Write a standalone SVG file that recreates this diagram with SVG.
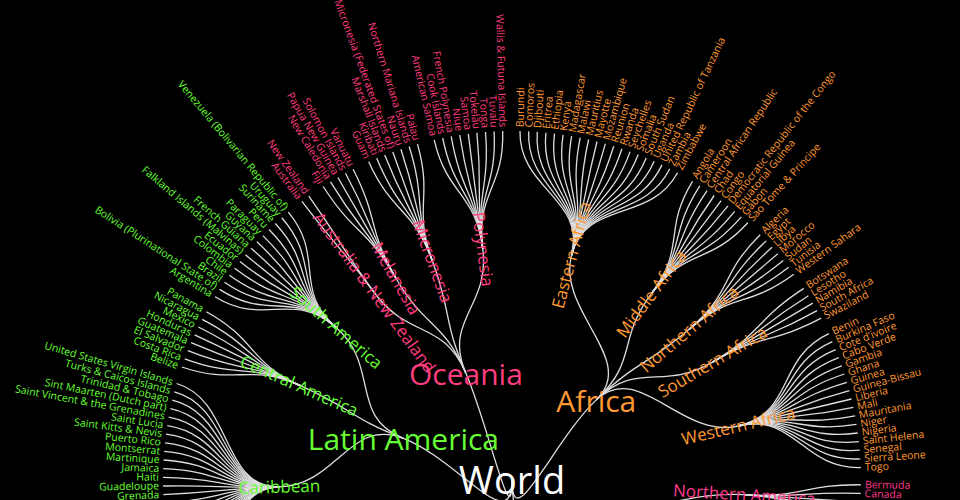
<svg xmlns="http://www.w3.org/2000/svg" width="960" height="500" viewBox="0 0 960 500">
<style>
text{font-family:"Open Sans","Liberation Sans",sans-serif}
.lk{fill:none;stroke:#dedede;stroke-width:1.3}
.f3{font-size:10.5px}
.f2{font-size:17px}
.f1{font-size:30px}
.f0{font-size:38px;fill:#fff}
.e{text-anchor:end}
.m{text-anchor:middle}
.la{fill:#66ff33}.oc{fill:#ff3d7f}.af{fill:#ff9933}.na{fill:#ff3a8c}
</style>
<rect width="960" height="500" fill="#000"/>
<g id="links" class="lk">
<path d="M512,480C512,538.2 457.7,459.1 403.4,438.3"/>
<path d="M512,480C512,538.2 489,426.6 465.9,373.2"/>
<path d="M512,480C512,538.2 554.2,439.9 596.3,399.9"/>
<path d="M512,480C512,596.3 628.1,487.4 744.2,494.7"/>
<path d="M403.4,438.3C349.1,417.4 337.6,485.2 279.4,486.9"/>
<path d="M403.4,438.3C349.1,417.4 353.7,409.4 300.9,385.9"/>
<path d="M403.4,438.3C349.1,417.4 380.1,365.7 336.2,327.6"/>
<path d="M465.9,373.2C442.8,319.8 408.7,339.4 374.2,292.5"/>
<path d="M465.9,373.2C442.8,319.8 425,328.8 396,278.3"/>
<path d="M465.9,373.2C442.8,319.8 452.4,316 432.5,261.3"/>
<path d="M465.9,373.2C442.8,319.8 490.1,306.9 482.8,249.2"/>
<path d="M596.3,399.9C638.5,359.8 556.6,311.3 571.5,255.1"/>
<path d="M596.3,399.9C638.5,359.8 616.6,340.3 651.4,293.7"/>
<path d="M596.3,399.9C638.5,359.8 644.9,366.9 689.2,329.2"/>
<path d="M596.3,399.9C638.5,359.8 662.4,391.5 712.6,362.1"/>
<path d="M596.3,399.9C638.5,359.8 681.7,439.5 738.3,426"/>
<path d="M279.4,486.9C221.3,488.6 237.8,576.8 182.9,596.2"/>
<path d="M279.4,486.9C221.3,488.6 235.4,570 180.1,588"/>
<path d="M279.4,486.9C221.3,488.6 233.3,563.1 177.6,579.7"/>
<path d="M279.4,486.9C221.3,488.6 231.3,556.2 175.2,571.4"/>
<path d="M279.4,486.9C221.3,488.6 229.5,549.2 173,563"/>
<path d="M279.4,486.9C221.3,488.6 227.9,542.2 171.1,554.6"/>
<path d="M279.4,486.9C221.3,488.6 226.4,535.1 169.3,546.1"/>
<path d="M279.4,486.9C221.3,488.6 225.2,528 167.8,537.6"/>
<path d="M279.4,486.9C221.3,488.6 224.1,520.9 166.5,529.1"/>
<path d="M279.4,486.9C221.3,488.6 223.1,513.7 165.4,520.5"/>
<path d="M279.4,486.9C221.3,488.6 222.4,506.6 164.5,511.9"/>
<path d="M279.4,486.9C221.3,488.6 221.8,499.4 163.8,503.3"/>
<path d="M279.4,486.9C221.3,488.6 221.4,492.2 163.3,494.6"/>
<path d="M279.4,486.9C221.3,488.6 221.2,485 163.1,486"/>
<path d="M279.4,486.9C221.3,488.6 221.2,477.8 163,477.3"/>
<path d="M279.4,486.9C221.3,488.6 221.3,470.6 163.2,468.7"/>
<path d="M279.4,486.9C221.3,488.6 221.7,463.4 163.6,460"/>
<path d="M279.4,486.9C221.3,488.6 222.2,456.2 164.2,451.4"/>
<path d="M279.4,486.9C221.3,488.6 222.8,449 165,442.8"/>
<path d="M279.4,486.9C221.3,488.6 223.7,441.8 166,434.2"/>
<path d="M279.4,486.9C221.3,488.6 224.7,434.7 167.3,425.7"/>
<path d="M279.4,486.9C221.3,488.6 225.9,427.6 168.7,417.1"/>
<path d="M279.4,486.9C221.3,488.6 227.3,420.5 170.4,408.6"/>
<path d="M279.4,486.9C221.3,488.6 228.9,413.5 172.3,400.2"/>
<path d="M279.4,486.9C221.3,488.6 230.6,406.5 174.3,391.8"/>
<path d="M279.4,486.9C221.3,488.6 232.5,399.6 176.6,383.5"/>
<path d="M300.9,385.9C248.1,362.3 236.9,385.8 181.8,367"/>
<path d="M300.9,385.9C248.1,362.3 239.3,379 184.7,358.8"/>
<path d="M300.9,385.9C248.1,362.3 241.9,372.3 187.8,350.7"/>
<path d="M300.9,385.9C248.1,362.3 244.6,365.6 191.1,342.7"/>
<path d="M300.9,385.9C248.1,362.3 247.5,359 194.6,334.8"/>
<path d="M300.9,385.9C248.1,362.3 250.6,352.5 198.3,327"/>
<path d="M300.9,385.9C248.1,362.3 253.9,346.1 202.2,319.3"/>
<path d="M300.9,385.9C248.1,362.3 257.3,339.7 206.3,311.7"/>
<path d="M336.2,327.6C292.2,289.5 264.5,327.3 215,296.7"/>
<path d="M336.2,327.6C292.2,289.5 268.4,321.2 219.6,289.4"/>
<path d="M336.2,327.6C292.2,289.5 272.4,315.2 224.5,282.2"/>
<path d="M336.2,327.6C292.2,289.5 276.5,309.3 229.4,275.2"/>
<path d="M336.2,327.6C292.2,289.5 280.9,303.5 234.6,268.2"/>
<path d="M336.2,327.6C292.2,289.5 285.3,297.9 239.9,261.4"/>
<path d="M336.2,327.6C292.2,289.5 289.9,292.3 245.4,254.7"/>
<path d="M336.2,327.6C292.2,289.5 294.6,286.8 251.1,248.2"/>
<path d="M336.2,327.6C292.2,289.5 299.4,281.5 256.9,241.8"/>
<path d="M336.2,327.6C292.2,289.5 304.4,276.3 262.9,235.6"/>
<path d="M336.2,327.6C292.2,289.5 309.5,271.2 269,229.5"/>
<path d="M336.2,327.6C292.2,289.5 314.8,266.3 275.3,223.5"/>
<path d="M336.2,327.6C292.2,289.5 320.1,261.5 281.8,217.7"/>
<path d="M336.2,327.6C292.2,289.5 325.6,256.8 288.3,212.1"/>
<path d="M374.2,292.5C339.8,245.7 336.9,247.8 301.9,201.4"/>
<path d="M374.2,292.5C339.8,245.7 342.7,243.5 308.8,196.2"/>
<path d="M396,278.3C366.9,227.9 354.6,235.4 323.2,186.5"/>
<path d="M396,278.3C366.9,227.9 360.7,231.6 330.5,181.9"/>
<path d="M396,278.3C366.9,227.9 366.9,227.9 337.9,177.5"/>
<path d="M396,278.3C366.9,227.9 373.2,224.4 345.5,173.3"/>
<path d="M396,278.3C366.9,227.9 379.6,221.1 353.1,169.3"/>
<path d="M432.5,261.3C412.6,206.7 392.6,214.8 368.7,161.8"/>
<path d="M432.5,261.3C412.6,206.7 399.2,211.9 376.7,158.3"/>
<path d="M432.5,261.3C412.6,206.7 405.9,209.2 384.7,155.1"/>
<path d="M432.5,261.3C412.6,206.7 412.6,206.7 392.8,152"/>
<path d="M432.5,261.3C412.6,206.7 419.4,204.3 400.9,149.2"/>
<path d="M432.5,261.3C412.6,206.7 426.3,202.1 409.2,146.5"/>
<path d="M432.5,261.3C412.6,206.7 433.2,200.1 417.5,144.1"/>
<path d="M482.8,249.2C475.6,191.5 447.2,196.5 434.2,139.8"/>
<path d="M482.8,249.2C475.6,191.5 454.2,195 442.7,138"/>
<path d="M482.8,249.2C475.6,191.5 461.3,193.6 451.2,136.4"/>
<path d="M482.8,249.2C475.6,191.5 468.4,192.5 459.7,135"/>
<path d="M482.8,249.2C475.6,191.5 475.6,191.5 468.3,133.8"/>
<path d="M482.8,249.2C475.6,191.5 482.7,190.7 476.9,132.8"/>
<path d="M482.8,249.2C475.6,191.5 489.9,190 485.5,132"/>
<path d="M482.8,249.2C475.6,191.5 497.1,189.6 494.1,131.5"/>
<path d="M482.8,249.2C475.6,191.5 504.3,189.3 502.7,131.1"/>
<path d="M571.5,255.1C586.3,198.8 518.7,189.3 520,131.1"/>
<path d="M571.5,255.1C586.3,198.8 525.9,189.5 528.7,131.4"/>
<path d="M571.5,255.1C586.3,198.8 533.1,189.9 537.3,131.9"/>
<path d="M571.5,255.1C586.3,198.8 540.3,190.6 545.9,132.7"/>
<path d="M571.5,255.1C586.3,198.8 547.4,191.3 554.5,133.6"/>
<path d="M571.5,255.1C586.3,198.8 554.6,192.3 563.1,134.8"/>
<path d="M571.5,255.1C586.3,198.8 561.7,193.5 571.6,136.1"/>
<path d="M571.5,255.1C586.3,198.8 568.8,194.8 580.2,137.7"/>
<path d="M571.5,255.1C586.3,198.8 575.8,196.3 588.6,139.5"/>
<path d="M571.5,255.1C586.3,198.8 582.9,197.9 597,141.5"/>
<path d="M571.5,255.1C586.3,198.8 589.8,199.8 605.4,143.7"/>
<path d="M571.5,255.1C586.3,198.8 596.7,201.8 613.7,146.2"/>
<path d="M571.5,255.1C586.3,198.8 603.6,204 621.9,148.8"/>
<path d="M571.5,255.1C586.3,198.8 610.4,206.3 630.1,151.6"/>
<path d="M571.5,255.1C586.3,198.8 617.2,208.9 638.2,154.6"/>
<path d="M571.5,255.1C586.3,198.8 623.9,211.6 646.2,157.9"/>
<path d="M571.5,255.1C586.3,198.8 630.5,214.4 654.2,161.3"/>
<path d="M571.5,255.1C586.3,198.8 637,217.4 662,164.9"/>
<path d="M571.5,255.1C586.3,198.8 643.5,220.6 669.8,168.7"/>
<path d="M571.5,255.1C586.3,198.8 649.9,223.9 677.5,172.7"/>
<path d="M651.4,293.7C686.3,247.2 662.4,231.1 692.5,181.3"/>
<path d="M651.4,293.7C686.3,247.2 668.5,234.9 699.8,185.9"/>
<path d="M651.4,293.7C686.3,247.2 674.5,238.8 707.1,190.6"/>
<path d="M651.4,293.7C686.3,247.2 680.5,243 714.2,195.5"/>
<path d="M651.4,293.7C686.3,247.2 686.3,247.2 721.2,200.6"/>
<path d="M651.4,293.7C686.3,247.2 692,251.6 728,205.9"/>
<path d="M651.4,293.7C686.3,247.2 697.6,256.1 734.7,211.3"/>
<path d="M651.4,293.7C686.3,247.2 703.1,260.8 741.3,216.9"/>
<path d="M651.4,293.7C686.3,247.2 708.5,265.6 747.8,222.7"/>
<path d="M689.2,329.2C733.5,291.5 718.9,275.6 760.2,234.7"/>
<path d="M689.2,329.2C733.5,291.5 723.9,280.8 766.2,240.9"/>
<path d="M689.2,329.2C733.5,291.5 728.7,286.1 772.1,247.3"/>
<path d="M689.2,329.2C733.5,291.5 733.5,291.5 777.8,253.8"/>
<path d="M689.2,329.2C733.5,291.5 738.1,297.1 783.3,260.5"/>
<path d="M689.2,329.2C733.5,291.5 742.5,302.7 788.7,267.3"/>
<path d="M689.2,329.2C733.5,291.5 746.9,308.5 793.8,274.2"/>
<path d="M712.6,362.1C762.7,332.6 755.1,320.3 803.7,288.4"/>
<path d="M712.6,362.1C762.7,332.6 759,326.4 808.4,295.7"/>
<path d="M712.6,362.1C762.7,332.6 762.7,332.6 812.8,303.1"/>
<path d="M712.6,362.1C762.7,332.6 766.3,338.8 817.1,310.6"/>
<path d="M712.6,362.1C762.7,332.6 769.7,345.2 821.2,318.2"/>
<path d="M738.3,426C794.9,412.5 776,358.1 828.9,333.7"/>
<path d="M738.3,426C794.9,412.5 779,364.7 832.4,341.6"/>
<path d="M738.3,426C794.9,412.5 781.8,371.3 835.7,349.6"/>
<path d="M738.3,426C794.9,412.5 784.4,378.1 838.8,357.7"/>
<path d="M738.3,426C794.9,412.5 786.8,384.8 841.8,365.8"/>
<path d="M738.3,426C794.9,412.5 789.1,391.7 844.5,374"/>
<path d="M738.3,426C794.9,412.5 791.2,398.6 847,382.3"/>
<path d="M738.3,426C794.9,412.5 793.1,405.5 849.4,390.6"/>
<path d="M738.3,426C794.9,412.5 794.9,412.5 851.5,399"/>
<path d="M738.3,426C794.9,412.5 796.5,419.5 853.4,407.4"/>
<path d="M738.3,426C794.9,412.5 797.9,426.6 855.1,415.9"/>
<path d="M738.3,426C794.9,412.5 799.1,433.7 856.5,424.4"/>
<path d="M738.3,426C794.9,412.5 800.2,440.8 857.8,433"/>
<path d="M738.3,426C794.9,412.5 801.1,448 858.9,441.6"/>
<path d="M738.3,426C794.9,412.5 801.8,455.2 859.7,450.2"/>
<path d="M738.3,426C794.9,412.5 802.3,462.4 860.3,458.8"/>
<path d="M738.3,426C794.9,412.5 802.6,469.5 860.8,467.5"/>
<path d="M744.2,494.7C802.2,498.4 802.8,484 861,484.8"/>
<path d="M744.2,494.7C802.2,498.4 802.6,491.2 860.7,493.4"/>
<path d="M744.2,494.7C802.2,498.4 802.2,498.4 860.3,502"/>
<path d="M744.2,494.7C802.2,498.4 801.7,505.6 859.7,510.7"/>
<path d="M744.2,494.7C802.2,498.4 801,512.7 858.8,519.3"/>
</g>
<g id="nodes" transform="translate(512,480)">
<g id="n-world"><text class="f0 m" dy=".37em">World</text></g>
<g id="n-latin-america"><text class="f1 m la" x="-108.6" y="-41.7" dy=".4em">Latin America</text></g>
<g id="n-oceania"><text class="f1 m oc" x="-46.1" y="-106.8" dy=".4em">Oceania</text></g>
<g id="n-africa"><text class="f1 m af" x="84.3" y="-80.1" dy=".4em">Africa</text></g>
<g id="n-northern-america"><text class="f2 m na" transform="rotate(3.62)" x="232.7" dy=".35em">Northern America</text></g>
<g id="n-caribbean"><text class="f2 m la" transform="rotate(-1.69)" x="-232.7" dy=".35em">Caribbean</text></g>
<g id="n-central-america"><text class="f2 m la" transform="rotate(23.87)" x="-232.7" dy=".35em">Central America</text></g>
<g id="n-south-america"><text class="f2 m la" transform="rotate(40.91)" x="-232.7" dy=".35em">South America</text></g>
<g id="n-anz"><text class="f2 m oc" transform="rotate(53.69)" x="-232.7" dy=".35em">Australia &amp; New Zealand</text></g>
<g id="n-melanesia"><text class="f2 m oc" transform="rotate(60.08)" x="-232.7" dy=".35em">Melanesia</text></g>
<g id="n-micronesia"><text class="f2 m oc" transform="rotate(70.02)" x="-232.7" dy=".35em">Micronesia</text></g>
<g id="n-polynesia"><text class="f2 m oc" transform="rotate(82.8)" x="-232.7" dy=".35em">Polynesia</text></g>
<g id="n-eastern-africa"><text class="f2 m af" transform="rotate(-75.19)" x="232.7" dy=".35em">Eastern Africa</text></g>
<g id="n-middle-africa"><text class="f2 m af" transform="rotate(-53.18)" x="232.7" dy=".35em">Middle Africa</text></g>
<g id="n-northern-africa"><text class="f2 m af" transform="rotate(-40.4)" x="232.7" dy=".35em">Northern Africa</text></g>
<g id="n-southern-africa"><text class="f2 m af" transform="rotate(-30.46)" x="232.7" dy=".35em">Southern Africa</text></g>
<g id="n-western-africa"><text class="f2 m af" transform="rotate(-13.42)" x="232.7" dy=".35em">Western Africa</text></g>
<g id="n-grenada"><text class="f3 la e" transform="rotate(-2.4)" x="-353" dy=".32em">Grenada</text></g>
<g id="n-guadeloupe"><text class="f3 la e" transform="rotate(-0.98)" x="-353" dy=".32em">Guadeloupe</text></g>
<g id="n-haiti"><text class="f3 la e" transform="rotate(0.44)" x="-353" dy=".32em">Haiti</text></g>
<g id="n-jamaica"><text class="f3 la e" transform="rotate(1.86)" x="-353" dy=".32em">Jamaica</text></g>
<g id="n-martinique"><text class="f3 la e" transform="rotate(3.28)" x="-353" dy=".32em">Martinique</text></g>
<g id="n-montserrat"><text class="f3 la e" transform="rotate(4.7)" x="-353" dy=".32em">Montserrat</text></g>
<g id="n-puerto-rico"><text class="f3 la e" transform="rotate(6.12)" x="-353" dy=".32em">Puerto Rico</text></g>
<g id="n-saint-kitts"><text class="f3 la e" transform="rotate(7.54)" x="-353" dy=".32em">Saint Kitts &amp; Nevis</text></g>
<g id="n-saint-lucia"><text class="f3 la e" transform="rotate(8.96)" x="-353" dy=".32em">Saint Lucia</text></g>
<g id="n-saint-vincent"><text class="f3 la e" transform="rotate(10.38)" x="-353" dy=".32em">Saint Vincent &amp; the Grenadines</text></g>
<g id="n-sint-maarten"><text class="f3 la e" transform="rotate(11.8)" x="-353" dy=".32em">Sint Maarten (Dutch part)</text></g>
<g id="n-trinidad"><text class="f3 la e" transform="rotate(13.22)" x="-353" dy=".32em">Trinidad &amp; Tobago</text></g>
<g id="n-turks-caicos"><text class="f3 la e" transform="rotate(14.64)" x="-353" dy=".32em">Turks &amp; Caicos Islands</text></g>
<g id="n-usvi"><text class="f3 la e" transform="rotate(16.06)" x="-353" dy=".32em">United States Virgin Islands</text></g>
<g id="n-belize"><text class="f3 la e" transform="rotate(18.9)" x="-353" dy=".32em">Belize</text></g>
<g id="n-costa-rica"><text class="f3 la e" transform="rotate(20.32)" x="-353" dy=".32em">Costa Rica</text></g>
<g id="n-el-salvador"><text class="f3 la e" transform="rotate(21.74)" x="-353" dy=".32em">El Salvador</text></g>
<g id="n-guatemala"><text class="f3 la e" transform="rotate(23.16)" x="-353" dy=".32em">Guatemala</text></g>
<g id="n-honduras"><text class="f3 la e" transform="rotate(24.58)" x="-353" dy=".32em">Honduras</text></g>
<g id="n-mexico"><text class="f3 la e" transform="rotate(26)" x="-353" dy=".32em">Mexico</text></g>
<g id="n-nicaragua"><text class="f3 la e" transform="rotate(27.42)" x="-353" dy=".32em">Nicaragua</text></g>
<g id="n-panama"><text class="f3 la e" transform="rotate(28.84)" x="-353" dy=".32em">Panama</text></g>
<g id="n-argentina"><text class="f3 la e" transform="rotate(31.68)" x="-353" dy=".32em">Argentina</text></g>
<g id="n-bolivia"><text class="f3 la e" transform="rotate(33.1)" x="-353" dy=".32em">Bolivia (Plurinational State of)</text></g>
<g id="n-brazil"><text class="f3 la e" transform="rotate(34.52)" x="-353" dy=".32em">Brazil</text></g>
<g id="n-chile"><text class="f3 la e" transform="rotate(35.94)" x="-353" dy=".32em">Chile</text></g>
<g id="n-colombia"><text class="f3 la e" transform="rotate(37.36)" x="-353" dy=".32em">Colombia</text></g>
<g id="n-ecuador"><text class="f3 la e" transform="rotate(38.78)" x="-353" dy=".32em">Ecuador</text></g>
<g id="n-falkland"><text class="f3 la e" transform="rotate(40.2)" x="-353" dy=".32em">Falkland Islands (Malvinas)</text></g>
<g id="n-french-guiana"><text class="f3 la e" transform="rotate(41.62)" x="-353" dy=".32em">French Guiana</text></g>
<g id="n-guyana"><text class="f3 la e" transform="rotate(43.04)" x="-353" dy=".32em">Guyana</text></g>
<g id="n-paraguay"><text class="f3 la e" transform="rotate(44.46)" x="-353" dy=".32em">Paraguay</text></g>
<g id="n-peru"><text class="f3 la e" transform="rotate(45.88)" x="-353" dy=".32em">Peru</text></g>
<g id="n-suriname"><text class="f3 la e" transform="rotate(47.3)" x="-353" dy=".32em">Suriname</text></g>
<g id="n-uruguay"><text class="f3 la e" transform="rotate(48.72)" x="-353" dy=".32em">Uruguay</text></g>
<g id="n-venezuela"><text class="f3 la e" transform="rotate(50.14)" x="-353" dy=".32em">Venezuela (Bolivarian Republic of)</text></g>
<g id="n-australia"><text class="f3 oc e" transform="rotate(52.98)" x="-353" dy=".32em">Australia</text></g>
<g id="n-new-zealand"><text class="f3 oc e" transform="rotate(54.4)" x="-353" dy=".32em">New Zealand</text></g>
<g id="n-fiji"><text class="f3 oc e" transform="rotate(57.24)" x="-353" dy=".32em">Fiji</text></g>
<g id="n-new-caledonia"><text class="f3 oc e" transform="rotate(58.66)" x="-353" dy=".32em">New Caledonia</text></g>
<g id="n-png"><text class="f3 oc e" transform="rotate(60.08)" x="-353" dy=".32em">Papua New Guinea</text></g>
<g id="n-solomon"><text class="f3 oc e" transform="rotate(61.5)" x="-353" dy=".32em">Solomon Islands</text></g>
<g id="n-vanuatu"><text class="f3 oc e" transform="rotate(62.92)" x="-353" dy=".32em">Vanuatu</text></g>
<g id="n-guam"><text class="f3 oc e" transform="rotate(65.76)" x="-353" dy=".32em">Guam</text></g>
<g id="n-kiribati"><text class="f3 oc e" transform="rotate(67.18)" x="-353" dy=".32em">Kiribati</text></g>
<g id="n-marshall"><text class="f3 oc e" transform="rotate(68.6)" x="-353" dy=".32em">Marshall Islands</text></g>
<g id="n-micronesia-fs"><text class="f3 oc e" transform="rotate(70.02)" x="-353" dy=".32em">Micronesia (Federated States of)</text></g>
<g id="n-nauru"><text class="f3 oc e" transform="rotate(71.44)" x="-353" dy=".32em">Nauru</text></g>
<g id="n-n-mariana"><text class="f3 oc e" transform="rotate(72.86)" x="-353" dy=".32em">Northern Mariana Islands</text></g>
<g id="n-palau"><text class="f3 oc e" transform="rotate(74.28)" x="-353" dy=".32em">Palau</text></g>
<g id="n-american-samoa"><text class="f3 oc e" transform="rotate(77.12)" x="-353" dy=".32em">American Samoa</text></g>
<g id="n-cook"><text class="f3 oc e" transform="rotate(78.54)" x="-353" dy=".32em">Cook Islands</text></g>
<g id="n-french-polynesia"><text class="f3 oc e" transform="rotate(79.96)" x="-353" dy=".32em">French Polynesia</text></g>
<g id="n-niue"><text class="f3 oc e" transform="rotate(81.38)" x="-353" dy=".32em">Niue</text></g>
<g id="n-samoa"><text class="f3 oc e" transform="rotate(82.8)" x="-353" dy=".32em">Samoa</text></g>
<g id="n-tokelau"><text class="f3 oc e" transform="rotate(84.22)" x="-353" dy=".32em">Tokelau</text></g>
<g id="n-tonga"><text class="f3 oc e" transform="rotate(85.64)" x="-353" dy=".32em">Tonga</text></g>
<g id="n-tuvalu"><text class="f3 oc e" transform="rotate(87.06)" x="-353" dy=".32em">Tuvalu</text></g>
<g id="n-wallis"><text class="f3 oc e" transform="rotate(88.48)" x="-353" dy=".32em">Wallis &amp; Futuna Islands</text></g>
<g id="n-burundi"><text class="f3 af" transform="rotate(-88.68)" x="353" dy=".32em">Burundi</text></g>
<g id="n-comoros"><text class="f3 af" transform="rotate(-87.26)" x="353" dy=".32em">Comoros</text></g>
<g id="n-djibouti"><text class="f3 af" transform="rotate(-85.84)" x="353" dy=".32em">Djibouti</text></g>
<g id="n-eritrea"><text class="f3 af" transform="rotate(-84.42)" x="353" dy=".32em">Eritrea</text></g>
<g id="n-ethiopia"><text class="f3 af" transform="rotate(-83)" x="353" dy=".32em">Ethiopia</text></g>
<g id="n-kenya"><text class="f3 af" transform="rotate(-81.58)" x="353" dy=".32em">Kenya</text></g>
<g id="n-madagascar"><text class="f3 af" transform="rotate(-80.16)" x="353" dy=".32em">Madagascar</text></g>
<g id="n-malawi"><text class="f3 af" transform="rotate(-78.74)" x="353" dy=".32em">Malawi</text></g>
<g id="n-mauritius"><text class="f3 af" transform="rotate(-77.32)" x="353" dy=".32em">Mauritius</text></g>
<g id="n-mayotte"><text class="f3 af" transform="rotate(-75.9)" x="353" dy=".32em">Mayotte</text></g>
<g id="n-mozambique"><text class="f3 af" transform="rotate(-74.48)" x="353" dy=".32em">Mozambique</text></g>
<g id="n-reunion"><text class="f3 af" transform="rotate(-73.06)" x="353" dy=".32em">Reunion</text></g>
<g id="n-rwanda"><text class="f3 af" transform="rotate(-71.64)" x="353" dy=".32em">Rwanda</text></g>
<g id="n-seychelles"><text class="f3 af" transform="rotate(-70.22)" x="353" dy=".32em">Seychelles</text></g>
<g id="n-somalia"><text class="f3 af" transform="rotate(-68.8)" x="353" dy=".32em">Somalia</text></g>
<g id="n-south-sudan"><text class="f3 af" transform="rotate(-67.38)" x="353" dy=".32em">South Sudan</text></g>
<g id="n-uganda"><text class="f3 af" transform="rotate(-65.96)" x="353" dy=".32em">Uganda</text></g>
<g id="n-tanzania"><text class="f3 af" transform="rotate(-64.54)" x="353" dy=".32em">United Republic of Tanzania</text></g>
<g id="n-zambia"><text class="f3 af" transform="rotate(-63.12)" x="353" dy=".32em">Zambia</text></g>
<g id="n-zimbabwe"><text class="f3 af" transform="rotate(-61.7)" x="353" dy=".32em">Zimbabwe</text></g>
<g id="n-angola"><text class="f3 af" transform="rotate(-58.86)" x="353" dy=".32em">Angola</text></g>
<g id="n-cameroon"><text class="f3 af" transform="rotate(-57.44)" x="353" dy=".32em">Cameroon</text></g>
<g id="n-car"><text class="f3 af" transform="rotate(-56.02)" x="353" dy=".32em">Central African Republic</text></g>
<g id="n-chad"><text class="f3 af" transform="rotate(-54.6)" x="353" dy=".32em">Chad</text></g>
<g id="n-congo"><text class="f3 af" transform="rotate(-53.18)" x="353" dy=".32em">Congo</text></g>
<g id="n-drc"><text class="f3 af" transform="rotate(-51.76)" x="353" dy=".32em">Democratic Republic of the Congo</text></g>
<g id="n-eq-guinea"><text class="f3 af" transform="rotate(-50.34)" x="353" dy=".32em">Equatorial Guinea</text></g>
<g id="n-gabon"><text class="f3 af" transform="rotate(-48.92)" x="353" dy=".32em">Gabon</text></g>
<g id="n-sao-tome"><text class="f3 af" transform="rotate(-47.5)" x="353" dy=".32em">Sao Tome &amp; Principe</text></g>
<g id="n-algeria"><text class="f3 af" transform="rotate(-44.66)" x="353" dy=".32em">Algeria</text></g>
<g id="n-egypt"><text class="f3 af" transform="rotate(-43.24)" x="353" dy=".32em">Egypt</text></g>
<g id="n-libya"><text class="f3 af" transform="rotate(-41.82)" x="353" dy=".32em">Libya</text></g>
<g id="n-morocco"><text class="f3 af" transform="rotate(-40.4)" x="353" dy=".32em">Morocco</text></g>
<g id="n-sudan"><text class="f3 af" transform="rotate(-38.98)" x="353" dy=".32em">Sudan</text></g>
<g id="n-tunisia"><text class="f3 af" transform="rotate(-37.56)" x="353" dy=".32em">Tunisia</text></g>
<g id="n-western-sahara"><text class="f3 af" transform="rotate(-36.14)" x="353" dy=".32em">Western Sahara</text></g>
<g id="n-botswana"><text class="f3 af" transform="rotate(-33.3)" x="353" dy=".32em">Botswana</text></g>
<g id="n-lesotho"><text class="f3 af" transform="rotate(-31.88)" x="353" dy=".32em">Lesotho</text></g>
<g id="n-namibia"><text class="f3 af" transform="rotate(-30.46)" x="353" dy=".32em">Namibia</text></g>
<g id="n-south-africa"><text class="f3 af" transform="rotate(-29.04)" x="353" dy=".32em">South Africa</text></g>
<g id="n-swaziland"><text class="f3 af" transform="rotate(-27.62)" x="353" dy=".32em">Swaziland</text></g>
<g id="n-benin"><text class="f3 af" transform="rotate(-24.78)" x="353" dy=".32em">Benin</text></g>
<g id="n-burkina-faso"><text class="f3 af" transform="rotate(-23.36)" x="353" dy=".32em">Burkina Faso</text></g>
<g id="n-cote-divoire"><text class="f3 af" transform="rotate(-21.94)" x="353" dy=".32em">Cote d'ivoire</text></g>
<g id="n-cabo-verde"><text class="f3 af" transform="rotate(-20.52)" x="353" dy=".32em">Cabo Verde</text></g>
<g id="n-gambia"><text class="f3 af" transform="rotate(-19.1)" x="353" dy=".32em">Gambia</text></g>
<g id="n-ghana"><text class="f3 af" transform="rotate(-17.68)" x="353" dy=".32em">Ghana</text></g>
<g id="n-guinea"><text class="f3 af" transform="rotate(-16.26)" x="353" dy=".32em">Guinea</text></g>
<g id="n-guinea-bissau"><text class="f3 af" transform="rotate(-14.84)" x="353" dy=".32em">Guinea-Bissau</text></g>
<g id="n-liberia"><text class="f3 af" transform="rotate(-13.42)" x="353" dy=".32em">Liberia</text></g>
<g id="n-mali"><text class="f3 af" transform="rotate(-12)" x="353" dy=".32em">Mali</text></g>
<g id="n-mauritania"><text class="f3 af" transform="rotate(-10.58)" x="353" dy=".32em">Mauritania</text></g>
<g id="n-niger"><text class="f3 af" transform="rotate(-9.16)" x="353" dy=".32em">Niger</text></g>
<g id="n-nigeria"><text class="f3 af" transform="rotate(-7.74)" x="353" dy=".32em">Nigeria</text></g>
<g id="n-saint-helena"><text class="f3 af" transform="rotate(-6.32)" x="353" dy=".32em">Saint Helena</text></g>
<g id="n-senegal"><text class="f3 af" transform="rotate(-4.9)" x="353" dy=".32em">Senegal</text></g>
<g id="n-sierra-leone"><text class="f3 af" transform="rotate(-3.48)" x="353" dy=".32em">Sierra Leone</text></g>
<g id="n-togo"><text class="f3 af" transform="rotate(-2.06)" x="353" dy=".32em">Togo</text></g>
<g id="n-bermuda"><text class="f3 na" transform="rotate(0.78)" x="353" dy=".32em">Bermuda</text></g>
<g id="n-canada"><text class="f3 na" transform="rotate(2.2)" x="353" dy=".32em">Canada</text></g>
</g>
</svg>
